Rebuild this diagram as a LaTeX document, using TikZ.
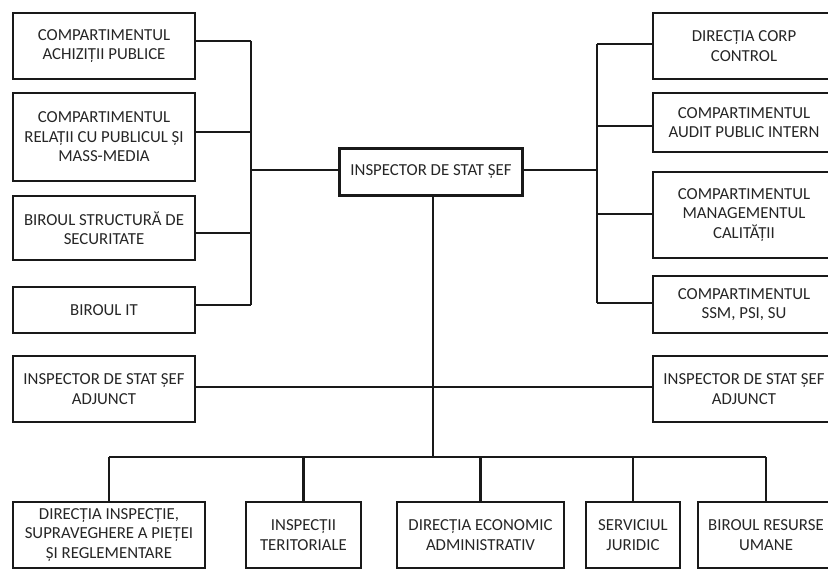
\documentclass[tikz,border=0pt]{standalone}
\usepackage{fontspec}
\setmainfont{Carlito}
\begin{document}
\begin{tikzpicture}[x=1pt,y=-1pt,
  box/.style={draw=black!90, line width=2.2pt, fill=white, align=center, inner sep=2pt,
    font=\fontsize{16.8}{19.5}\selectfont, text=black!85},
  conn/.style={draw=black!90, line width=2.2pt}]
\useasboundingbox (0,0) rectangle (828,583);
\clip (0,0) rectangle (828,583);
\fill[white] (0,0) rectangle (828,583);
% left column
\node[box, minimum width=182pt, minimum height=66pt] (L1) at (104,46) {COMPARTIMENTUL\\ACHIZIȚII PUBLICE};
\node[box, minimum width=182pt, minimum height=88pt] (L2) at (104,137) {COMPARTIMENTUL\\RELAȚII CU PUBLICUL ȘI\\MASS-MEDIA};
\node[box, minimum width=182pt, minimum height=64pt] (L3) at (104,228) {BIROUL STRUCTURĂ DE\\SECURITATE};
\node[box, minimum width=182pt, minimum height=46pt] (L4) at (104,310) {BIROUL IT};
% center
\node[box, minimum width=183pt, minimum height=47pt] (C) at (431,172) {INSPECTOR DE STAT ȘEF};
% right column
\node[box, minimum width=182pt, minimum height=66pt] (R1) at (744,46) {DIRECȚIA CORP\\CONTROL};
\node[box, minimum width=182pt, minimum height=59pt] (R2) at (744,122.5) {COMPARTIMENTUL\\AUDIT PUBLIC INTERN};
\node[box, minimum width=182pt, minimum height=86pt] (R3) at (744,215) {COMPARTIMENTUL\\MANAGEMENTUL\\CALITĂȚII};
\node[box, minimum width=182pt, minimum height=57pt] (R4) at (744,304.5) {COMPARTIMENTUL\\SSM, PSI, SU};
% deputies
\node[box, minimum width=182pt, minimum height=66pt] (A1) at (104,389) {INSPECTOR DE STAT ȘEF\\ADJUNCT};
\node[box, minimum width=182pt, minimum height=66pt] (A2) at (744,389) {INSPECTOR DE STAT ȘEF\\ADJUNCT};
% bottom row
\node[box, minimum width=192pt, minimum height=66pt] (B1) at (109,535) {DIRECȚIA INSPECȚIE,\\SUPRAVEGHERE A PIEȚEI\\ȘI REGLEMENTARE};
\node[box, minimum width=115pt, minimum height=66pt] (B2) at (303.5,535) {INSPECȚII\\TERITORIALE};
\node[box, minimum width=167pt, minimum height=66pt] (B3) at (480.5,535) {DIRECȚIA ECONOMIC\\ADMINISTRATIV};
\node[box, minimum width=94pt, minimum height=66pt] (B4) at (633,535) {SERVICIUL\\JURIDIC};
\node[box, minimum width=136pt, minimum height=66pt] (B5) at (766,535) {BIROUL RESURSE\\UMANE};
% connector attachment points
\coordinate (l1) at ([yshift=5pt]L1.east);
\coordinate (l2) at ([yshift=5pt]L2.east);
\coordinate (l3) at ([yshift=-5pt]L3.east);
\coordinate (l4) at ([yshift=5pt]L4.east);
\coordinate (r1) at ([yshift=2pt]R1.west);
\coordinate (r2) at ([yshift=-3.5pt]R2.west);
\coordinate (r3) at ([yshift=1pt]R3.west);
\coordinate (r4) at ([yshift=1.5pt]R4.west);
\coordinate (cw) at ([yshift=2pt]C.west);
\coordinate (ce) at ([yshift=2pt]C.east);
\coordinate (a1) at ([yshift=2pt]A1.east);
\coordinate (a2) at ([yshift=2pt]A2.west);
% bus coordinates
\coordinate (lbus) at (251,0);
\coordinate (rbus) at (597,0);
\coordinate (bus) at (0,457);
% left connectors
\foreach \n in {l1,l2,l3,l4} \draw[conn] (\n) -- (\n -| lbus);
\draw[conn] (l1 -| lbus) -- (l4 -| lbus);
\draw[conn] (cw) -- (cw -| lbus);
% right connectors
\foreach \n in {r1,r2,r3,r4} \draw[conn] (\n) -- (\n -| rbus);
\draw[conn] (r1 -| rbus) -- (r4 -| rbus);
\draw[conn] (ce) -- (ce -| rbus);
% main vertical
\coordinate (mv) at (433,0);
\draw[conn] (C.south -| mv) -- (bus -| mv);
% deputies line
\draw[conn] (a1) -- (a2);
% bottom bus
\draw[conn] (B1.north |- bus) -- (B5.north |- bus);
\foreach \n in {B1,B2,B3,B4,B5} \draw[conn] (\n.north) -- (\n.north |- bus);
\end{tikzpicture}
\end{document}
